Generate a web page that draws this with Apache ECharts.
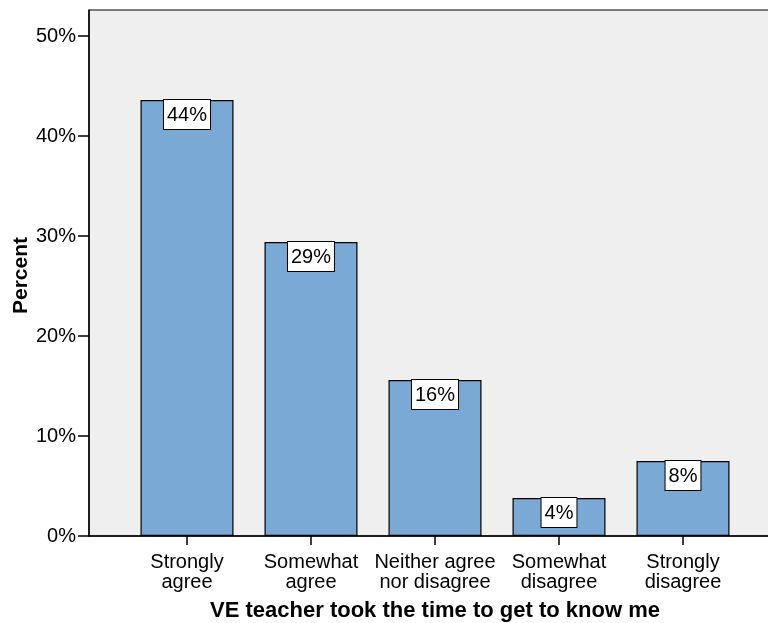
<!DOCTYPE html>
<html><head><meta charset="utf-8">
<script src="https://cdn.jsdelivr.net/npm/echarts@6/dist/echarts.min.js"></script>
<style>html,body{margin:0;padding:0;background:#fff}#c{width:768px;height:623px}</style>
</head><body><div id="c"></div>
<script>
const categories = ['Strongly\nagree', 'Somewhat\nagree', 'Neither agree\nnor disagree', 'Somewhat\ndisagree', 'Strongly\ndisagree'];
const values = [43.6, 29.4, 15.6, 3.8, 7.5];
const labels = ['44%', '29%', '16%', '4%', '8%'];
const yTicks = [0, 10, 20, 30, 40, 50];
const yMax = 52.6;
const font = 'Liberation Sans, Arial, sans-serif';

const chart = echarts.init(document.getElementById('c'), null, {renderer: 'canvas'});
chart.setOption({
  animation: false,
  grid: [
    {left: 89, right: -2, top: 10, bottom: 87, show: true, backgroundColor: '#efefef', borderColor: '#000', borderWidth: 1, containLabel: false, outerBoundsMode: 'none'},
    {left: 125, right: 23, top: 10, bottom: 87, containLabel: false, outerBoundsMode: 'none'}
  ],
  xAxis: [
    {gridIndex: 0, type: 'value', min: 0, max: 1, axisLine: {show: true, lineStyle: {color: '#000', width: 1.5}}, axisTick: {show: false}, axisLabel: {show: false}, splitLine: {show: false}},
    {gridIndex: 1, type: 'category', data: categories, boundaryGap: true,
     axisLine: {show: false},
     axisTick: {show: true, alignWithLabel: true, length: 9, lineStyle: {color: '#000', width: 1.5}},
     axisLabel: {color: '#000', fontSize: 20, fontFamily: font, lineHeight: 20, margin: 16, interval: 0},
     name: 'VE teacher took the time to get to know me', nameLocation: 'middle', nameGap: 64, nameMoveOverlap: false,
     nameTextStyle: {color: '#000', fontSize: 22, fontWeight: 'bold', fontFamily: font}}
  ],
  yAxis: [
    {gridIndex: 0, type: 'value', min: 0, max: yMax, interval: 10,
     axisLine: {show: true, lineStyle: {color: '#000', width: 1.5}},
     axisTick: {show: true, length: 11, customValues: yTicks, lineStyle: {color: '#000', width: 1.5}},
     axisLabel: {color: '#000', fontSize: 20, fontFamily: font, margin: 13, customValues: yTicks,
       formatter: v => v + '%'},
     splitLine: {show: false},
     name: 'Percent', nameLocation: 'middle', nameGap: 57, nameMoveOverlap: false,
     nameTextStyle: {color: '#000', fontSize: 21, fontWeight: 'bold', fontFamily: font, padding: [0, 5, 0, 0]}},
    {gridIndex: 1, type: 'value', min: 0, max: yMax, show: false}
  ],
  series: [{
    type: 'bar', xAxisIndex: 1, yAxisIndex: 1, data: values, barCategoryGap: '25%',
    itemStyle: {color: '#7ba9d6', borderColor: '#000', borderWidth: 1.2},
    label: {show: true, position: 'insideTop', distance: 0, formatter: p => labels[p.dataIndex],
      color: '#000', fontSize: 20, fontFamily: font, backgroundColor: '#fff', borderColor: '#000', borderWidth: 1,
      padding: [5, 3, 4, 3]}
  }]
});
</script></body></html>
